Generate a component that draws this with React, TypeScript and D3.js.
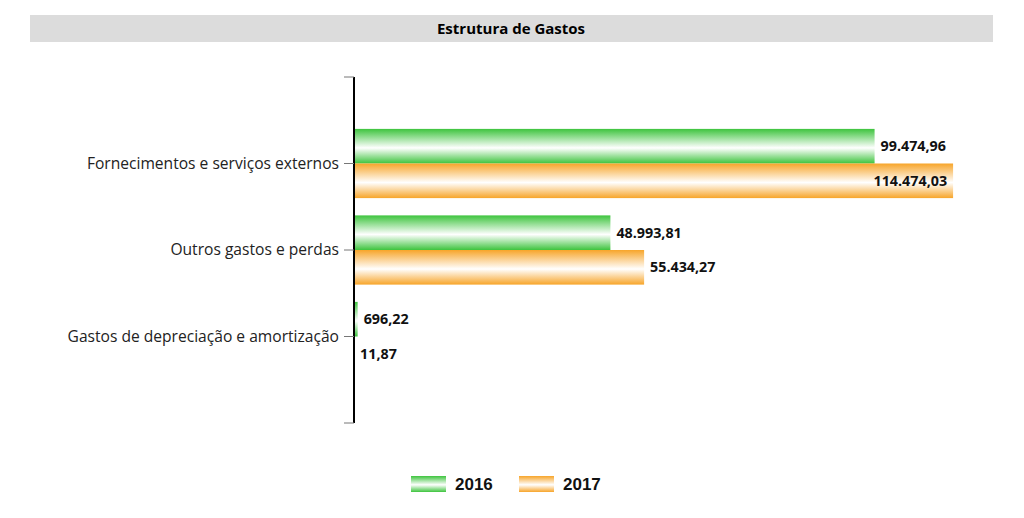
import React from "react";
import * as d3 from "d3";

const categories = [
  "Fornecimentos e serviços externos",
  "Outros gastos e perdas",
  "Gastos de depreciação e amortização",
];
const series = ["2016", "2017"];
const values2016 = [99474.96, 48993.81, 696.22];
const values2017 = [114474.03, 55434.27, 11.87];
const labels2016 = ["99.474,96", "48.993,81", "696,22"];
const labels2017 = ["114.474,03", "55.434,27", "11,87"];
const title = "Estrutura de Gastos";

const W = 1024;
const H = 518;
const colors = { "2016": "#3ec43e", "2017": "#f7a52a" };

export default function App() {
  const y = d3.scalePoint<string>().domain(categories).range([77, 423]).padding(1);
  const step = y.step();
  const barH = step * 0.4;
  const x = d3.scaleLinear().domain([0, 120000]).range([354, 982]);
  const font = "'Open Sans', sans-serif";

  const data = [
    { key: "2016", vals: values2016, labs: labels2016, off: -barH },
    { key: "2017", vals: values2017, labs: labels2017, off: 0 },
  ];

  return (
    <svg width={W} height={H} style={{ position: "absolute", left: 0, top: 0 }}>
      <defs>
        {series.map((s) => (
          <linearGradient key={s} id={"g" + s} x1="0" y1="0" x2="0" y2="1">
            <stop offset="0%" stopColor={colors[s as "2016"]} />
            <stop offset="55%" stopColor="#ffffff" />
            <stop offset="100%" stopColor={colors[s as "2016"]} />
          </linearGradient>
        ))}
      </defs>
      <rect x={0} y={0} width={W} height={H} fill="#fff" />
      <rect x={30} y={15} width={963} height={27} fill="#dcdcdc" />
      <text x={511} y={29} dy="0.35em" textAnchor="middle" fontFamily={font} fontWeight="bold" fontSize={15} fill="#000">
        {title}
      </text>

      {data.map((d) =>
        categories.map((c, i) => {
          const yc = (y(c) as number) + d.off;
          const x1 = x(d.vals[i]);
          const w = x1 - x(0);
          const inside = x1 + 80 > 993;
          return (
            <g key={d.key + c}>
              <rect x={x(0)} y={yc} width={Math.max(w, 0)} height={barH} fill={`url(#g${d.key})`} />
              <text
                x={inside ? x1 - 6 : x1 + 6}
                y={yc + barH / 2}
                dy="0.35em"
                textAnchor={inside ? "end" : "start"}
                fontFamily={font}
                fontWeight="bold"
                fontSize={14.3}
                fill="#111"
              >
                {d.labs[i]}
              </text>
            </g>
          );
        })
      )}

      <line x1={354} x2={354} y1={77} y2={423} stroke="#000" strokeWidth={2} />
      {[77, ...categories.map((c) => y(c) as number), 423].map((t, i) => (
        <line key={i} x1={344} x2={354} y1={t} y2={t} stroke="#777" strokeWidth={1} />
      ))}
      {categories.map((c) => (
        <text key={c} x={339} y={y(c) as number} dy="0.35em" textAnchor="end" fontFamily={font} fontSize={15.6} fill="#222">
          {c}
        </text>
      ))}

      {series.map((s, i) => (
        <g key={s} transform={`translate(${411 + i * 108},484)`}>
          <rect x={0} y={-8} width={35} height={16} fill={`url(#g${s})`} />
          <text x={44} y={0} dy="0.35em" fontFamily="Arial, 'Liberation Sans', sans-serif" fontWeight="bold" fontSize={17} fill="#111">
            {s}
          </text>
        </g>
      ))}
    </svg>
  );
}
